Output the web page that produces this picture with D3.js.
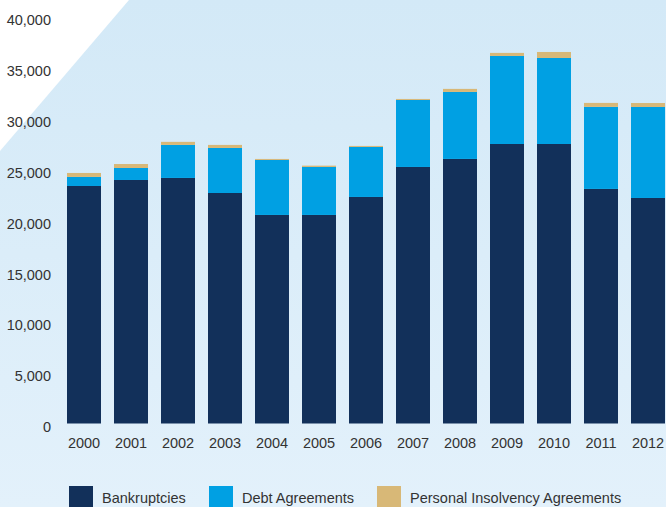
<!DOCTYPE html>
<html>
<head>
<meta charset="utf-8">
<script src="https://cdn.jsdelivr.net/npm/d3@7"></script>
<style>
  html, body { margin: 0; padding: 0; background: #ffffff; }
  svg { display: block; font-family: "Liberation Sans", Arial, sans-serif; }
</style>
</head>
<body>
<svg id="chart" width="666" height="507"></svg>
<script>
// Financial years shown along the x axis
const years = ["2000", "2001", "2002", "2003", "2004", "2005", "2006",
               "2007", "2008", "2009", "2010", "2011", "2012"];

// Personal insolvency activity by type (counts)
const bankruptcies = [23360, 23950, 24150, 22670, 20510, 20510, 22280,
                      25230, 26020, 27490, 27490, 23070, 22180];
const debtAgreements = [890, 1180, 3250, 4430, 5410, 4720, 4920,
                        6590, 6590, 8660, 8460, 8070, 8950];
const personalInsolvencyAgreements = [390, 390, 300, 300, 100, 130, 100,
                                      100, 300, 300, 590, 390, 390];

const yTicks = [0, 5000, 10000, 15000, 20000, 25000, 30000, 35000, 40000];

const seriesNames = ["Bankruptcies", "Debt Agreements", "Personal Insolvency Agreements"];
const seriesColors = ["#12305a", "#00a0e3", "#d8b877"];

const W = 666, H = 507;
const svg = d3.select("#chart");

// Soft blue backdrop with a white corner wedge
const defs = svg.append("defs");
const grad = defs.append("linearGradient")
  .attr("id", "bg").attr("x1", 0).attr("y1", 0).attr("x2", 0).attr("y2", 1);
grad.append("stop").attr("offset", "0%").attr("stop-color", "#d3e9f7");
grad.append("stop").attr("offset", "100%").attr("stop-color", "#e3f1fb");
svg.append("rect").attr("width", W).attr("height", H).attr("fill", "url(#bg)");
svg.append("path").attr("d", "M0,0 L129,0 L0,151 Z").attr("fill", "#ffffff");

// Table of stacked rows built from the arrays above
const rows = years.map((y, i) => ({
  year: y,
  "Bankruptcies": bankruptcies[i],
  "Debt Agreements": debtAgreements[i],
  "Personal Insolvency Agreements": personalInsolvencyAgreements[i]
}));
const stacked = d3.stack().keys(seriesNames)(rows);

// 47px per year, 34px wide bars
const x = d3.scaleBand().domain(years).range([60.5, 671.5])
  .paddingInner(13 / 47).paddingOuter(6.5 / 47);
const y = d3.scaleLinear().domain([0, 40000]).range([423.5, 16.8]);

const color = d3.scaleOrdinal().domain(seriesNames).range(seriesColors);

// Bars
svg.append("g").selectAll("g")
  .data(stacked)
  .join("g")
  .attr("fill", d => color(d.key))
  .selectAll("rect")
  .data(d => d)
  .join("rect")
  .attr("x", d => x(d.data.year))
  .attr("width", x.bandwidth())
  .attr("y", d => y(d[1]))
  .attr("height", d => y(d[0]) - y(d[1]));

// Y axis labels (no line or ticks)
const yAxis = d3.axisLeft(y).tickValues(yTicks).tickSize(0).tickPadding(0)
  .tickFormat(d3.format(","));
const gy = svg.append("g").attr("transform", "translate(51,3.5)").call(yAxis);
gy.select(".domain").remove();
gy.selectAll("text")
  .attr("fill", "#333333")
  .style("font-size", "14.5px")
  .style("font-family", "'Liberation Sans', Arial, sans-serif");

// X axis labels
const xAxis = d3.axisBottom(x).tickSize(0).tickPadding(0);
const gx = svg.append("g").attr("transform", "translate(0,438)").call(xAxis);
gx.select(".domain").remove();
gx.selectAll("text")
  .attr("fill", "#333333")
  .style("font-size", "14.5px")
  .style("font-family", "'Liberation Sans', Arial, sans-serif");

// Legend
const legendX = [69, 209, 377];
const legend = svg.append("g").selectAll("g")
  .data(seriesNames)
  .join("g")
  .attr("transform", (d, i) => `translate(${legendX[i]},486)`);
legend.append("rect")
  .attr("width", 24).attr("height", 24)
  .attr("fill", d => color(d));
legend.append("text")
  .attr("x", 33).attr("y", 16.8)
  .attr("fill", "#333333")
  .style("font-size", "14.5px")
  .text(d => d);
</script>
</body>
</html>
